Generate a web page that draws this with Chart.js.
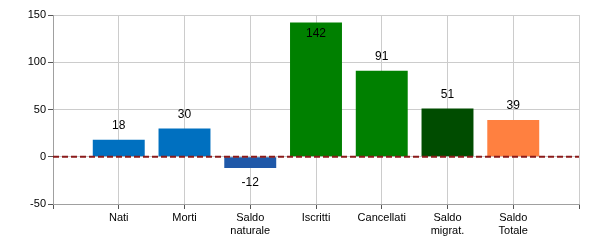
<!DOCTYPE html>
<html>
<head>
<meta charset="utf-8">
<script src="https://cdn.jsdelivr.net/npm/chart.js@4"></script>
<style>
html,body{margin:0;padding:0;background:#fff;}
#wrap{width:600px;height:250px;}
</style>
</head>
<body>
<div id="wrap"><canvas id="c" width="600" height="250"></canvas></div>
<script>
const categories = ['', 'Nati', 'Morti', ['Saldo','naturale'], 'Iscritti', 'Cancellati', ['Saldo','migrat.'], ['Saldo','Totale'], ''];
const values = [null, 18, 30, -12, 142, 91, 51, 39, null];
const barColors = ['#0070C0', '#0070C0', '#0070C0', '#1F58A8', '#008000', '#008000', '#004C00', '#FF8040', '#0070C0'];
const yTicks = [-50, 0, 50, 100, 150];

const fontFam = '"Liberation Sans", Arial, sans-serif';

const zeroLine = {
  id: 'zeroLine',
  afterDatasetsDraw(chart) {
    const ctx = chart.ctx, a = chart.chartArea, y = chart.scales.y.getPixelForValue(0);
    ctx.save();
    ctx.beginPath();
    ctx.setLineDash([6, 3]);
    ctx.lineWidth = 2;
    ctx.strokeStyle = '#8B1A1A';
    ctx.moveTo(a.left, y);
    ctx.lineTo(a.right, y);
    ctx.stroke();
    ctx.restore();
  }
};

const valueLabels = {
  id: 'valueLabels',
  afterDraw(chart) {
    const ctx = chart.ctx, a = chart.chartArea;
    const meta = chart.getDatasetMeta(0);
    ctx.save();
    ctx.font = '12px ' + fontFam;
    ctx.fillStyle = '#000';
    ctx.textAlign = 'center';
    ctx.textBaseline = 'middle';
    meta.data.forEach((bar, i) => {
      const v = values[i];
      if (v === null) return;
      let y;
      if (v >= 0) {
        y = bar.y - 14;
        if (y < a.top + 6) y = bar.y + 11;
      } else {
        y = bar.y + 15;
      }
      ctx.fillText(String(v), bar.x, y);
    });
    ctx.restore();
  }
};

new Chart(document.getElementById('c'), {
  type: 'bar',
  data: {
    labels: categories,
    datasets: [{
      data: values,
      backgroundColor: barColors,
      borderWidth: 0,
      barPercentage: 0.79,
      categoryPercentage: 1
    }]
  },
  options: {
    responsive: false,
    animation: false,
    events: [],
    layout: { padding: { left: 0, right: 21, top: 15, bottom: 0 } },
    plugins: { legend: { display: false }, tooltip: { enabled: false } },
    scales: {
      x: {
        offset: false,
        afterFit(scale) { scale.height = 46; },
        grid: { color: '#cccccc', tickColor: '#555555', tickLength: 5, offset: false },
        border: { color: '#a0a0a0' },
        ticks: { color: '#000', font: { family: fontFam, size: 11 }, maxRotation: 0, autoSkip: false, padding: 2 }
      },
      y: {
        min: -50, max: 150,
        afterBuildTicks(scale) { scale.ticks = yTicks.map(v => ({ value: v })); },
        afterFit(scale) { scale.width = 53; },
        grid: { color: '#cccccc', tickColor: '#555555', tickLength: 5 },
        border: { color: '#a0a0a0' },
        ticks: { color: '#000', font: { family: fontFam, size: 11 }, padding: 2 }
      }
    }
  },
  plugins: [zeroLine, valueLabels]
});
</script>
</body>
</html>
